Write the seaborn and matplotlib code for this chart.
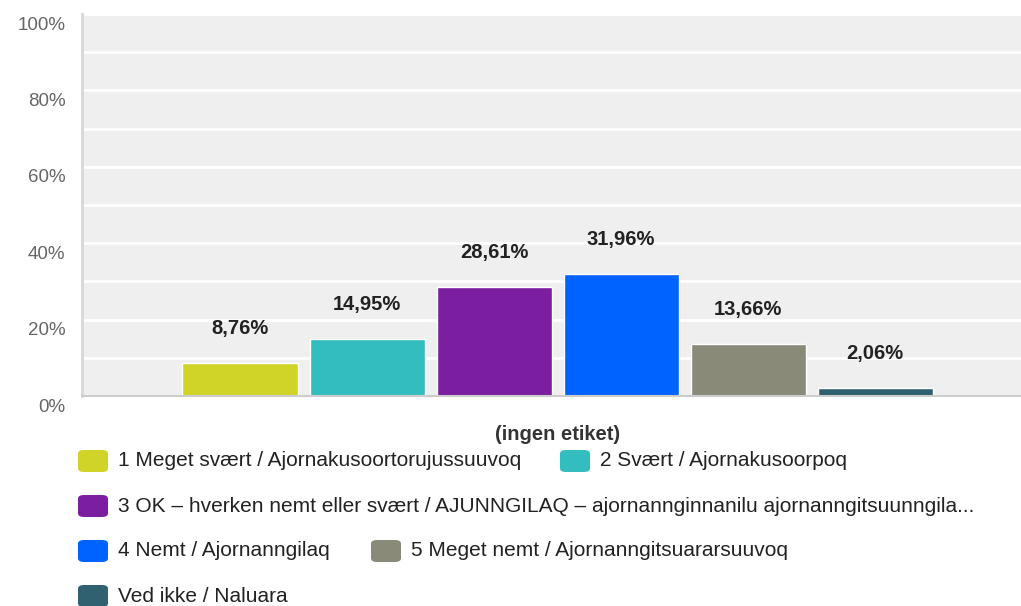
import pandas as pd
import matplotlib.pyplot as plt
import seaborn as sns
from matplotlib.patches import FancyBboxPatch
from matplotlib.transforms import ScaledTranslation

#data
kategori = ["(ingen etiket)"]
svar = ["1 Meget svært / Ajornakusoortorujussuuvoq",
        "2 Svært / Ajornakusoorpoq",
        "3 OK – hverken nemt eller svært / AJUNNGILAQ – ajornannginnanilu ajornanngitsuunngila...",
        "4 Nemt / Ajornanngilaq",
        "5 Meget nemt / Ajornanngitsuararsuuvoq",
        "Ved ikke / Naluara"]
procent = [8.76, 14.95, 28.61, 31.96, 13.66, 2.06]
farver = ["#d0d428", "#33bdbe", "#7b1fa0", "#0063ff", "#898a78", "#2f6170"]

df = pd.DataFrame({"etiket": kategori * len(svar), "svar": svar, "pct": procent})

sns.set_theme(style="white")
plt.rcParams['font.family'] = ['Liberation Sans', 'DejaVu Sans']

fig = plt.figure(figsize=(10.21, 6.06), dpi=100)
ax = fig.add_axes([82/1021, 1-396/606, 1-82/1021, (396-14)/606])
ax.set_facecolor("#efefef")

sns.barplot(data=df, x="etiket", y="pct", hue="svar", palette=farver,
            width=1.0, gap=0.094, legend=False, ax=ax, saturation=1)

#value labels with comma decimals
for cont, v in zip(ax.containers, procent):
    ax.bar_label(cont, labels=[f"{v:.2f}%".replace(".", ",")], padding=18,
                 fontsize=14.5, fontweight="bold", color="#222222")

ax.set_xlim(-0.624, 0.608)
ax.set_ylim(0, 100)
ax.set_yticks(range(0, 101, 20))
ax.set_yticklabels([f"{t}%" for t in range(0, 101, 20)])
ax.set_yticks(range(0, 101, 10), minor=True)
ax.grid(axis="y", which="both", color="white", linewidth=2)
ax.set_axisbelow(True)
ax.tick_params(axis="y", which="both", length=0, pad=12, labelsize=13.5, labelcolor="#666666")
ax.tick_params(axis="x", length=0, pad=21, labelsize=14.5, labelcolor="#333333")
for t in ax.get_xticklabels():
    t.set_fontweight("bold")
#y labels sit a bit below their grid lines
for t in ax.get_yticklabels():
    t.set_transform(t.get_transform() + ScaledTranslation(0, -0.09, fig.dpi_scale_trans))
ax.set_xlabel("")
ax.set_ylabel("")
for s in ["top", "right"]:
    ax.spines[s].set_visible(False)
ax.spines["left"].set_color("#d8d8d8")
ax.spines["left"].set_linewidth(2)
ax.spines["bottom"].set_color("#cccccc")
ax.spines["bottom"].set_linewidth(1.5)

#legend laid out by hand (x of swatch, y centre of row in pixels)
leg_pos = [(78, 461), (560, 461), (78, 506), (78, 551), (371, 551), (78, 596)]
W, H = 1021, 606
for (px, py), lab, c in zip(leg_pos, svar, farver):
    fig.patches.append(FancyBboxPatch(((px)/W, (H-py-11)/H), 30/W, 22/H,
                                      boxstyle="round,pad=0,rounding_size=0.006",
                                      transform=fig.transFigure, facecolor=c,
                                      edgecolor="none"))
    fig.text((px+40)/W, (H-py)/H, lab, fontsize=15, color="#222222", va="center")

fig.savefig("out.png", dpi=100)
